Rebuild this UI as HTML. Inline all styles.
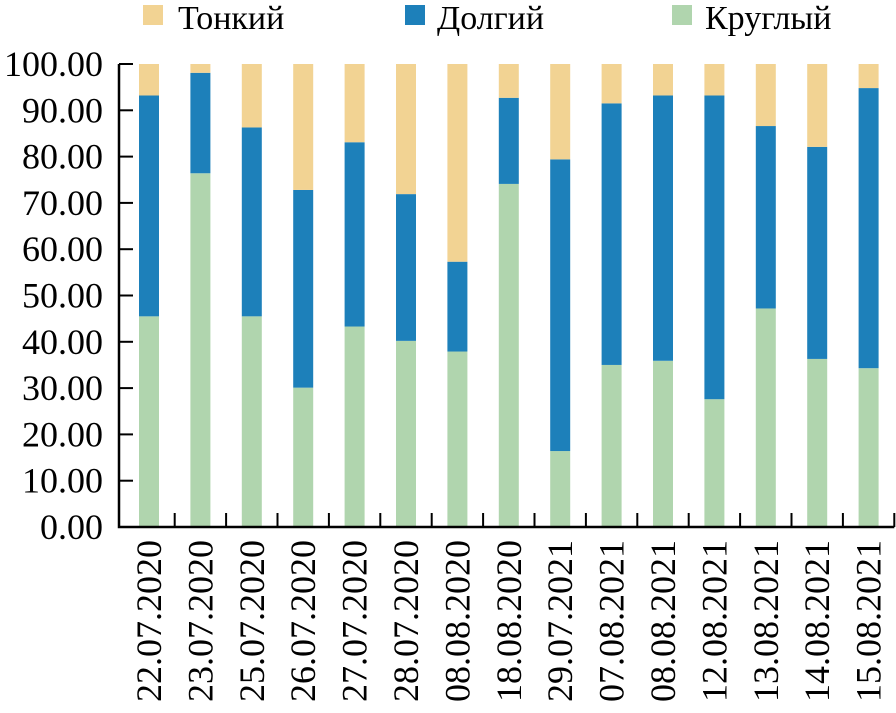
<!DOCTYPE html>
<html><head><meta charset="utf-8"><style>
body{margin:0;background:#fff}
svg{display:block}
text{font-family:"Liberation Serif","DejaVu Serif",serif}
</style></head><body>
<svg id="c" width="896" height="713" font-family="Liberation Serif, serif"></svg>
<script>
const categories=["22.07.2020","23.07.2020","25.07.2020","26.07.2020","27.07.2020","28.07.2020","08.08.2020","18.08.2020","29.07.2021","07.08.2021","08.08.2021","12.08.2021","13.08.2021","14.08.2021","15.08.2021"];
const krugly=[45.5,76.4,45.5,30.1,43.3,40.2,37.9,74.1,16.4,35.0,35.9,27.6,47.2,36.3,34.3];
const dolgy=[47.7,21.7,40.8,42.7,39.8,31.7,19.4,18.6,63.0,56.5,57.3,65.6,39.4,45.8,60.5];
const tonky=categories.map((c,i)=>100-krugly[i]-dolgy[i]);
const yTicks=[0,10,20,30,40,50,60,70,80,90,100];
const NS="http://www.w3.org/2000/svg";
const svg=document.getElementById('c');
const x0=123.3,cw=51.4,bw=20,yb=527,yt=64;
const X=i=>x0+cw*(i+0.5);
const Y=v=>yb-(yb-yt)*v/100;
function mk(t,a,p){const e=document.createElementNS(NS,t);for(const k in a)e.setAttribute(k,a[k]);if(t==='text')e.setAttribute('font-family','Liberation Serif, serif');(p||svg).appendChild(e);return e;}
const cols={k:"#b0d5ae",d:"#1d80ba",t:"#f2d393"};
categories.forEach((c,i)=>{
  const g=mk('g',{});
  
  
  let base=0;
  [[krugly[i],cols.k,'krugly'],[dolgy[i],cols.d,'dolgy'],[tonky[i],cols.t,'tonky']].forEach(([v,col,n])=>{
    const r=mk('rect',{x:X(i)-bw/2,y:Y(base+v),width:bw,height:Y(base)-Y(base+v),fill:col},g);
    
    
    base+=v;
  });
  const t=mk('text',{x:0,y:0,'font-size':36,'text-anchor':'end',transform:`translate(${X(i)+12},540) rotate(-90)`});
  t.textContent=c;
  
  
  mk('line',{x1:x0+cw*(i+1),x2:x0+cw*(i+1),y1:yb,y2:yb-14,stroke:'#000','stroke-width':2});
});
const ax=mk('path',{d:`M119,${yt} V${yb} H${x0+cw*15}`,fill:'none',stroke:'#000','stroke-width':2.5});


yTicks.forEach(v=>{
  mk('line',{x1:119,x2:133,y1:Y(v),y2:Y(v),stroke:'#000','stroke-width':2});
  const t=mk('text',{x:103,y:Y(v)+12,'font-size':36,'text-anchor':'end'});
  t.textContent=v.toFixed(2);
  
  
});
[["Тонкий",cols.t,143,178],["Долгий",cols.d,405,437],["Круглый",cols.k,672,705]].forEach(([n,col,sx,tx])=>{
  const g=mk('g',{});
  
  
  mk('rect',{x:sx,y:5,width:20,height:20,fill:col},g);
  const t=mk('text',{x:tx,y:29,'font-size':34},g);
  t.textContent=n;
});
</script>
</body></html>
